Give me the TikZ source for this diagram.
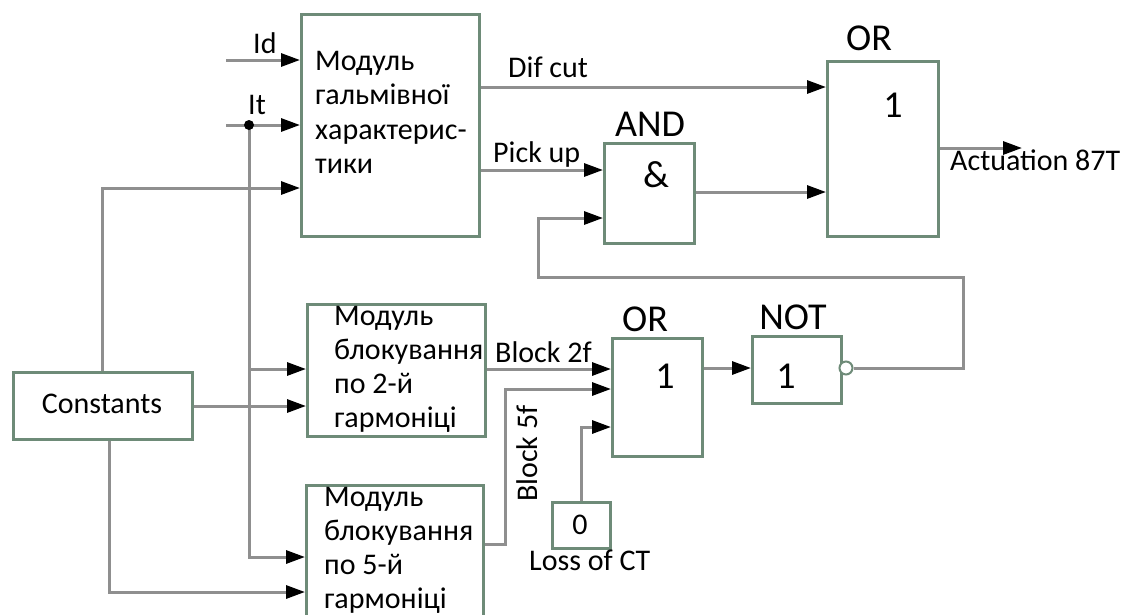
\documentclass[tikz,border=0pt]{standalone}
\usepackage{fontspec}
\setmainfont{Carlito}
\usetikzlibrary{arrows.meta}
\definecolor{ln}{HTML}{8F8F8F}
\definecolor{bx}{HTML}{6E8B78}
\begin{document}
\begin{tikzpicture}[x=1pt,y=-1pt,
  box/.style={draw=bx,line width=2.5pt,inner sep=0pt,anchor=north west},
  wire/.style={draw=ln,line width=3pt},
  arr/.style={wire,-{Triangle[length=19pt,width=13pt,color=black]}},
  txt/.style={font=\fontsize{30}{34}\selectfont,inner sep=0pt,anchor=base west,text=black},
  big/.style={font=\fontsize{38}{42}\selectfont,inner sep=0pt,anchor=base,text=black}]
\useasboundingbox (0,0) rectangle (1126,614);
\clip (0,0) rectangle (1126,614);
\fill[white] (0,0) rectangle (1126,614);

% boxes
\node[box,minimum width=178pt,minimum height=222pt] (m1) at (300,13) {};
\node[box,minimum width=90pt,minimum height=100pt] (and) at (603,142) {};
\node[box,minimum width=111pt,minimum height=175pt] (or1) at (826,60) {};
\node[box,minimum width=178pt,minimum height=132pt] (m2) at (306,303) {};
\node[box,minimum width=177pt,minimum height=150pt] (m5) at (305,484) {};
\node[box,minimum width=179pt,minimum height=67pt] (cst) at (12,371) {};
\node[box,minimum width=90pt,minimum height=118pt] (or2) at (611,337) {};
\node[box,minimum width=89pt,minimum height=67pt] (not) at (751,335) {};
\node[box,minimum width=58pt,minimum height=46pt] (zero) at (551,501) {};

% texts in boxes
\node[txt] (m1a) at (315,70) {Модуль};
\node[txt] (m1b) at (315,104) {гальмівної};
\node[txt] (m1c) at (315,139) {характерис-};
\node[txt] (m1d) at (315,173) {тики};
\node[txt] (m2a) at (334,325) {Модуль};
\node[txt] (m2b) at (334,359) {блокування};
\node[txt] (m2c) at (334,393) {по 2-й};
\node[txt] (m2d) at (334,427) {гармоніці};
\node[txt] (m5a) at (324,506) {Модуль};
\node[txt] (m5b) at (324,540) {блокування};
\node[txt] (m5c) at (324,574) {по 5-й};
\node[txt] (m5d) at (324,608) {гармоніці};
\node[txt,anchor=base] (cstt) at (102,413) {Constants};
\node[txt,anchor=base] (zerot) at (580,534) {0};
\node[big] (or1t) at (893,117) {1};
\node[big] (andt) at (656,187) {\&};
\node[big] (or2t) at (665,388) {1};
\node[big] (nott) at (786,388) {1};

% gate titles
\node[big] (or1l) at (869,50) {OR};
\node[big] (andl) at (650,136) {AND};
\node[big] (or2l) at (645,331) {OR};
\node[big] (notl) at (793,329) {NOT};

% bubble
\node[circle,draw=bx,fill=white,line width=2pt,minimum size=13pt,inner sep=0pt] (bub) at (846,368) {};

% inputs
\coordinate (idS) at (226,60);
\coordinate (itS) at (226,125);
\coordinate (itJ) at (249,125);
\draw[arr] (idS) -- (idS -| m1.west);
\draw[arr] (itS) -- (itS -| m1.west);
\draw[arr] (cst.north) |- (m1.west |- 0,188);
\draw[arr] (itJ) |- (m5.west |- 0,557);
\draw[arr] (itJ |- 0,369) -- (m2.west |- 0,369);
\draw[arr] (cst.east |- 0,406) -- (m2.west |- 0,406);
\draw[arr] (cst.south -| 109,0) |- (m5.west |- 0,592);
\fill[black] (itJ) circle (5pt);

% outputs
\draw[arr] (m1.east |- 0,87) -- (or1.west |- 0,87);
\draw[arr] (m1.east |- 0,170) -- (and.west |- 0,170);
\draw[arr] (and.east |- 0,192) -- (or1.west |- 0,192);
\draw[arr] (bub.east) -| (963,277) -| (538,218) -- (and.west |- 0,218);
\coordinate (actE) at (1022,148);
\draw[arr] (or1.east |- actE) -- (actE);
\draw[arr] (m2.east |- 0,369) -- (or2.west |- 0,369);
\draw[arr] (m5.east |- 0,544) -| (505,389) -- (or2.west |- 0,389);
\draw[arr] (zero.north) |- (or2.west |- 0,427);
\draw[arr] (or2.east |- 0,368) -- (not.west |- 0,368);

% labels
\node[txt] (idl) at (253,53) {Id};
\node[txt] (itl) at (248,114) {It};
\node[txt] (difl) at (508,77) {Dif cut};
\node[txt] (pickl) at (493,162) {Pick up};
\node[txt] (actl) at (950,170) {Actuation 87T};
\node[txt] (b2l) at (495,362) {Block 2f};
\node[txt,rotate=90] (b5l) at (537,502) {Block 5f};
\node[txt] (lossl) at (529,570) {Loss of CT};
\end{tikzpicture}
\end{document}
